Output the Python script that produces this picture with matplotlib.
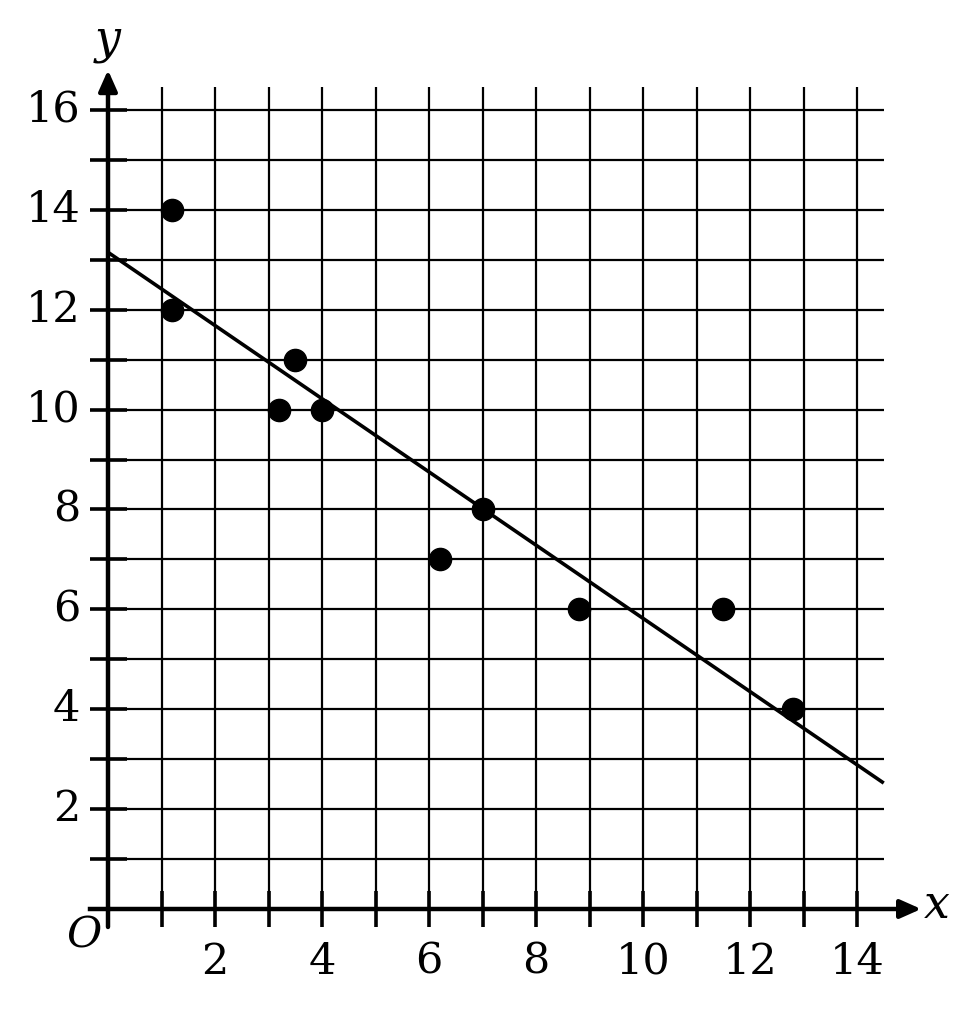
import numpy as np
import matplotlib
matplotlib.use('Agg')
from matplotlib import pyplot as plt

# data points
xPontos = [1.2, 1.2, 3.2, 3.5, 4.0, 6.2, 7.0, 8.8, 11.5, 12.8]
yPontos = [14, 12, 10, 11, 10, 7, 8, 6, 6, 4]

# fitted line: y = intercepto + inclinacao * x
intercepto = 13.15
inclinacao = -0.733
xLinhaFim = 14.5

xTicks = list(range(1, 15))
yTicks = list(range(1, 17))
xRotulos = [2, 4, 6, 8, 10, 12, 14]
yRotulos = [2, 4, 6, 8, 10, 12, 14, 16]

fig = plt.figure(figsize=(9.76, 10.28), dpi=100)
ax = fig.add_axes([0, 0, 1, 1])
ax.set_xlim(-108 / 53.5, (976 - 108) / 53.5)
ax.set_ylim((909 - 1028) / 49.94, 909 / 49.94)
ax.axis('off')

fonte = 'DejaVu Serif'
tam = 31

# grid
gridTopo = 16.45
ax.vlines(xTicks, 0, gridTopo, color='black', lw=1.6, zorder=1)
ax.hlines(yTicks, 0, xLinhaFim, color='black', lw=1.6, zorder=1)

# axes with arrows
ax.annotate('', xy=(15.2, 0), xytext=(-0.01, 0),
            arrowprops=dict(arrowstyle='-|>,head_length=0.45,head_width=0.2', lw=3.2, color='black',
                            mutation_scale=28, shrinkA=0, shrinkB=0), zorder=3)
ax.annotate('', xy=(0, 16.8), xytext=(0, -0.36),
            arrowprops=dict(arrowstyle='-|>,head_length=0.45,head_width=0.2', lw=3.2, color='black',
                            mutation_scale=28, shrinkA=0, shrinkB=0), zorder=3)
ax.plot([-0.34, 0], [0, 0], color='black', lw=3.2, zorder=3)

# tick marks
ax.vlines(xTicks, -0.36, 0.36, color='black', lw=2.6, zorder=3)
ax.hlines(yTicks, -0.34, 0.36, color='black', lw=2.6, zorder=3)

# tick labels
for v in xRotulos:
    ax.text(v, -1.06, str(v), ha='center', va='center', fontsize=tam, family=fonte)
for v in yRotulos:
    ax.text(-0.52, v, str(v), ha='right', va='center', fontsize=tam, family=fonte)

ax.text(-0.45, -0.54, 'O', ha='center', va='center', fontsize=tam, family=fonte, style='italic')
ax.text(15.5, 0.08, 'x', ha='center', va='center', fontsize=tam + 2, family=fonte, style='italic')
ax.text(0.0, 17.4, 'y', ha='center', va='center', fontsize=tam + 2, family=fonte, style='italic')

# regression line
xs = np.array([0, xLinhaFim])
ax.plot(xs, intercepto + inclinacao * xs, color='black', lw=2.6, zorder=4, solid_capstyle='butt')

# points
ax.plot(xPontos, yPontos, 'o', color='black', markersize=16, zorder=5)

fig.savefig('out.png', dpi=100)
